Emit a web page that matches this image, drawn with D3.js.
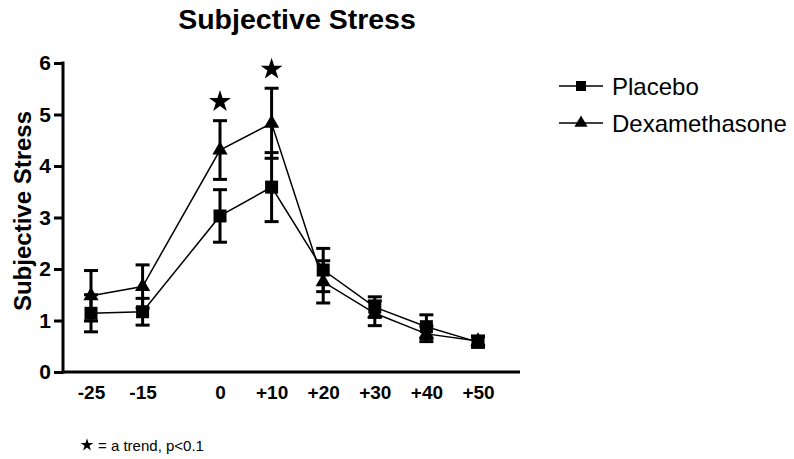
<!DOCTYPE html>
<html><head><meta charset="utf-8">
<script src="https://cdn.jsdelivr.net/npm/d3@7"></script>
<style>body{margin:0;background:#fff}svg{display:block;font-family:"Liberation Sans",Arial,sans-serif}</style>
</head><body><svg id="c" width="794" height="459"></svg>
<script>
const times = [-25, -15, 0, 10, 20, 30, 40, 50];
const timeLabels = ["-25", "-15", "0", "+10", "+20", "+30", "+40", "+50"];
const placebo = [1.14, 1.17, 3.03, 3.59, 1.98, 1.26, 0.88, 0.58];
const placeboSem = [0.36, 0.26, 0.51, 0.67, 0.42, 0.20, 0.23, 0.10];
const dexa = [1.48, 1.66, 4.31, 4.83, 1.75, 1.14, 0.74, 0.60];
const dexaSem = [0.49, 0.42, 0.57, 0.68, 0.41, 0.24, 0.15, 0.10];
const trendIdx = [2, 3];
const yTicks = [0, 1, 2, 3, 4, 5, 6];
const seriesNames = ["Placebo", "Dexamethasone"];

const svg = d3.select("#c");
const x = d3.scaleLinear().domain([-25, 50]).range([91, 478]);
const y = d3.scaleLinear().domain([0, 6]).range([372, 63]);

// title
svg.append("text").attr("x", 297).attr("y", 29).attr("text-anchor", "middle")
  .attr("font-size", 28.5).attr("font-weight", "bold").text("Subjective Stress");

// y label
svg.append("text").attr("transform", "translate(31,211) rotate(-90)").attr("text-anchor", "middle")
  .attr("font-size", 24).attr("font-weight", "bold").text("Subjective Stress");

// y axis
const yAxis = d3.axisLeft(y).tickValues(yTicks).tickSize(9).tickPadding(3).tickFormat(d3.format("d"));
const gy = svg.append("g").attr("transform", "translate(63,0)").call(yAxis);
gy.select(".domain").attr("stroke-width", 3).attr("d", "M0," + (y(6)-1.5) + "V" + (y(0)+1.5));
gy.selectAll(".tick line").attr("stroke-width", 3);
gy.selectAll(".tick text").attr("font-size", 21).attr("font-weight", "bold").attr("font-family", "Liberation Sans, Arial, sans-serif").attr("fill", "#000");

// x axis
const xAxis = d3.axisBottom(x).tickValues(times).tickSize(0).tickPadding(14)
  .tickFormat((d, i) => timeLabels[i]);
const gx = svg.append("g").attr("transform", "translate(0,372)").call(xAxis);
gx.select(".domain").attr("stroke-width", 3).attr("d", "M62,0H520");
gx.selectAll(".tick text").attr("font-size", 19).attr("font-weight", "bold").attr("font-family", "Liberation Sans, Arial, sans-serif").attr("fill", "#000");

const series = [
  {vals: placebo, sem: placeboSem, sym: d3.symbolSquare, size: 169},
  {vals: dexa, sem: dexaSem, sym: d3.symbolTriangle, size: 100}
];

const line = d3.line().x((d, i) => x(times[i])).y(d => y(d));
series.forEach(s => {
  svg.append("path").attr("d", line(s.vals)).attr("fill", "none").attr("stroke", "#000").attr("stroke-width", 1.5);
});
series.forEach(s => {
  const g = svg.append("g");
  s.vals.forEach((v, i) => {
    const cx = x(times[i]), hi = y(v + s.sem[i]), lo = y(v - s.sem[i]);
    g.append("line").attr("x1", cx).attr("x2", cx).attr("y1", hi).attr("y2", lo).attr("stroke", "#000").attr("stroke-width", 3);
    [hi, lo].forEach(yy => g.append("line").attr("x1", cx - 7).attr("x2", cx + 7).attr("y1", yy).attr("y2", yy).attr("stroke", "#000").attr("stroke-width", 3));
  });
});
series.forEach(s => {
  svg.append("g").selectAll("path").data(s.vals).join("path")
    .attr("transform", (d, i) => `translate(${x(times[i])},${y(d)})`)
    .attr("d", d3.symbol(s.sym, s.size)()).attr("fill", "#000");
});

// trend stars
trendIdx.forEach(i => {
  svg.append("path").attr("transform", `translate(${x(times[i])},${y(dexa[i] + dexaSem[i]) - 19})`)
    .attr("d", d3.symbol(d3.symbolStar, 150)()).attr("fill", "#000");
});

// legend
const legY = [86, 123];
series.forEach((s, k) => {
  svg.append("line").attr("x1", 559).attr("x2", 603).attr("y1", legY[k]).attr("y2", legY[k]).attr("stroke", "#000").attr("stroke-width", 1.5);
  svg.append("path").attr("transform", `translate(581,${legY[k]})`).attr("d", d3.symbol(s.sym, k === 0 ? 100 : 75)()).attr("fill", "#000");
  svg.append("text").attr("x", 612).attr("y", legY[k] + 8.5).attr("font-size", 24).text(seriesNames[k]);
});

// footnote
svg.append("path").attr("transform", "translate(87,445)").attr("d", d3.symbol(d3.symbolStar, 50)()).attr("fill", "#000");
svg.append("text").attr("x", 98).attr("y", 450.5).attr("font-size", 15).text("= a trend, p<0.1");
</script></body></html>
